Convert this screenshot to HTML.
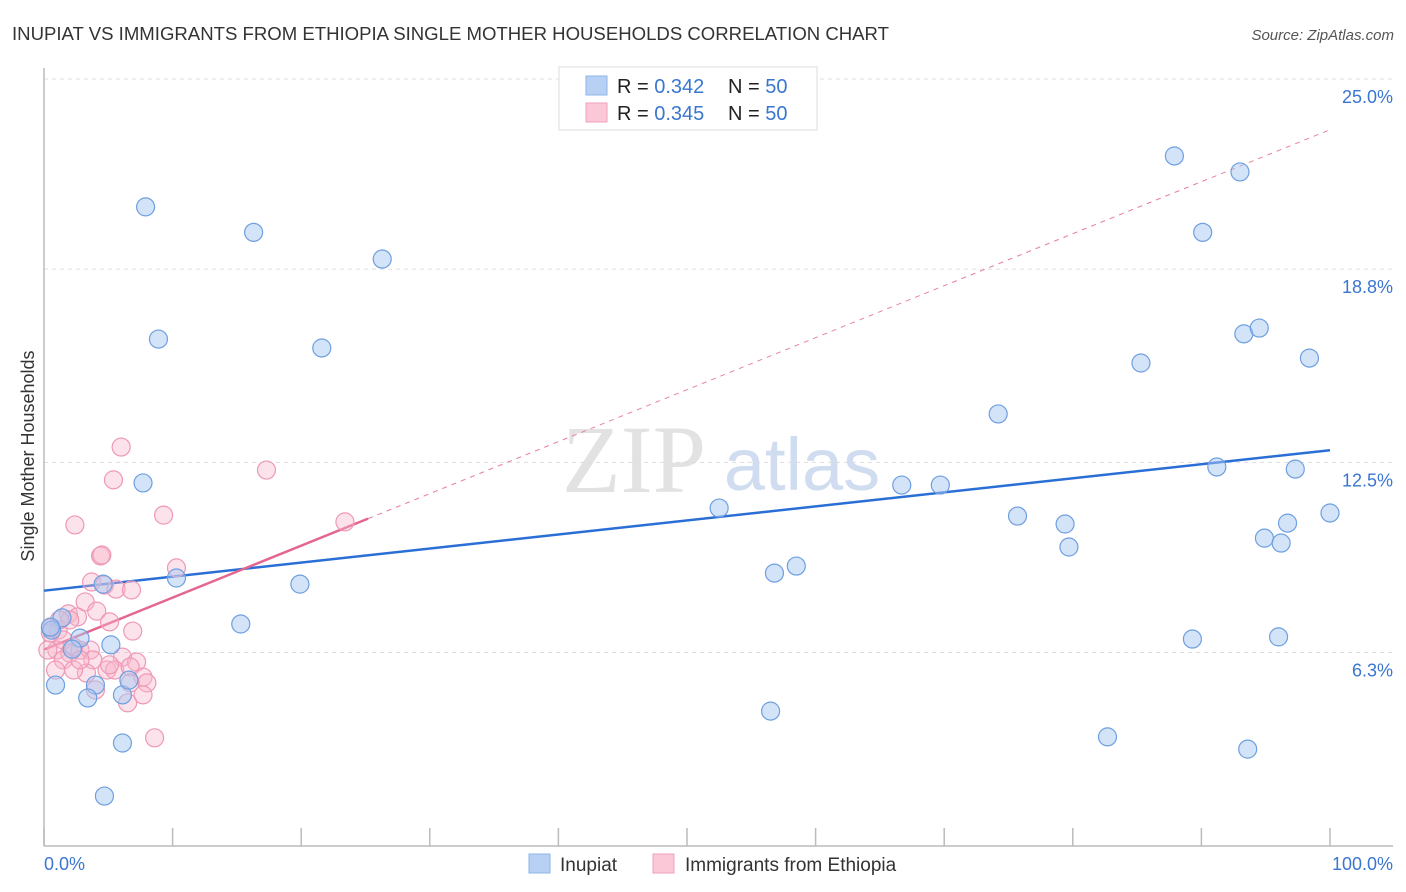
<!DOCTYPE html>
<html><head><meta charset="utf-8"><style>
body{margin:0;background:#fff;font-family:"Liberation Sans",sans-serif;}
#wrap{position:relative;width:1406px;height:892px;overflow:hidden;}
</style></head><body>
<div id="wrap">
<svg id="svg" width="1406" height="892" xmlns="http://www.w3.org/2000/svg">
<text x="12" y="40" font-size="18" fill="#333" textLength="877" lengthAdjust="spacingAndGlyphs">INUPIAT VS IMMIGRANTS FROM ETHIOPIA SINGLE MOTHER HOUSEHOLDS CORRELATION CHART</text>
<text x="1394" y="40" font-size="15" fill="#555" font-style="italic" text-anchor="end">Source: ZipAtlas.com</text>
<text x="34" y="456" font-size="18" fill="#333" text-anchor="middle" transform="rotate(-90 34 456)">Single Mother Households</text>
<g><text x="634" y="492" font-size="96" fill="#e2e2e2" font-family="Liberation Serif,serif" text-anchor="middle">ZIP</text><text x="802" y="490" font-size="74" fill="#d0ddf0" text-anchor="middle">atlas</text></g>
<g id="grid"></g><g id="axes"></g><g id="lines"></g><g id="pts"></g>
<g>
<rect x="559" y="67" width="258" height="63" fill="#fff" stroke="#ddd"/>
<rect x="586" y="76" width="21" height="19" fill="#b7d0f4" stroke="#8fb4e8"/>
<rect x="586" y="103" width="21" height="19" fill="#fac8d6" stroke="#f0a0bb"/>
<text x="617" y="93" font-size="20" fill="#222">R = <tspan fill="#3a76d0">0.342</tspan><tspan x="728">N = </tspan><tspan fill="#3a76d0">50</tspan></text>
<text x="617" y="120" font-size="20" fill="#222">R = <tspan fill="#3a76d0">0.345</tspan><tspan x="728">N = </tspan><tspan fill="#3a76d0">50</tspan></text>
</g>
<g>
<rect x="529" y="854" width="21" height="19" fill="#b7d0f4" stroke="#8fb4e8"/>
<text x="560" y="871" font-size="19" fill="#333">Inupiat</text>
<rect x="653" y="854" width="21" height="19" fill="#fac8d6" stroke="#f0a0bb"/>
<text x="685" y="871" font-size="19" fill="#333">Immigrants from Ethiopia</text>
</g>
</svg>
</div>
<script>
const yTicks=[25.0,18.8,12.5,6.3];
const yTickLabels=["25.0%","18.8%","12.5%","6.3%"];
const xTickLabels=["0.0%","100.0%"];
const blueX=[7.9,16.3,26.3,8.9,21.6,7.7,10.3,4.6,19.9,15.3,1.4,0.6,2.8,5.2,2.2,4.0,0.9,3.4,6.1,6.6,6.1,4.7,52.5,56.8,58.5,56.5,66.7,69.7,74.2,75.7,79.4,79.7,82.7,85.3,87.9,90.1,89.3,91.2,93.0,93.3,94.5,94.9,96.2,96.7,97.3,96.0,93.6,98.4,100,0.5];
const blueY=[20.83,20.0,19.13,16.52,16.23,11.83,8.73,8.53,8.53,7.23,7.43,7.03,6.77,6.55,6.41,5.24,5.24,4.82,4.92,5.4,3.35,1.62,11.01,8.89,9.12,4.39,11.76,11.76,14.08,10.75,10.49,9.74,3.55,15.74,22.49,20.0,6.74,12.35,21.97,16.69,16.88,10.03,9.87,10.52,12.28,6.81,3.15,15.9,10.85,7.13];
const pinkX=[6.0,17.3,5.4,2.4,9.3,23.4,4.4,4.5,10.3,3.7,4.7,5.6,6.8,3.2,4.1,5.1,6.9,1.9,2.6,0.5,1.1,1.5,1.0,2.0,2.8,3.6,1.5,3.8,0.9,3.3,4.9,6.1,7.2,5.5,6.7,7.7,8.0,4.0,6.7,7.7,6.5,8.6,0.3,2.3,0.5,2.3,5.1,2.0,1.2,2.8];
const pinkY=[13.0,12.25,11.93,10.46,10.78,10.56,9.45,9.48,9.06,8.6,8.5,8.37,8.34,7.95,7.65,7.3,7.0,7.56,7.46,6.94,7.03,6.71,6.38,6.28,6.38,6.38,6.06,6.06,5.73,5.63,5.73,6.15,5.99,5.73,5.83,5.5,5.31,5.08,5.31,4.92,4.66,3.52,6.38,6.48,7.1,5.73,5.9,7.36,7.36,6.06];
const NS="http://www.w3.org/2000/svg";
const X0=44,X1=1330,Y25=79,PX=30.67;
const sx=v=>X0+(X1-X0)*v/100;
const sy=v=>Y25+(25-v)*PX;
function mk(tag,attrs,parent){const e=document.createElementNS(NS,tag);for(const k in attrs)e.setAttribute(k,attrs[k]);document.getElementById(parent).appendChild(e);return e;}
yTicks.forEach((t,i)=>{
 const g=mk('line',{x1:X0,x2:1393,y1:sy(t),y2:sy(t),stroke:'#ddd','stroke-dasharray':'4,4'},'grid');
 
 
 const l=mk('text',{x:1393,y:sy(t)+24,'font-size':18,fill:'#3a76d0','text-anchor':'end'},'axes');
 l.textContent=yTickLabels[i];
 
 
});
const ya=mk('line',{x1:X0,x2:X0,y1:68,y2:846,stroke:'#bbb','stroke-width':1.5},'axes');


const xa=mk('line',{x1:X0,x2:1393,y1:846,y2:846,stroke:'#bbb','stroke-width':1.5},'axes');


for(let i=0;i<=10;i++){const t=mk('line',{x1:sx(i*10),x2:sx(i*10),y1:828,y2:846,stroke:'#bbb','stroke-width':1.5},'axes');
 
 }
[[0,'start',X0],[1,'end',1393]].forEach(([i,a,x])=>{const t=mk('text',{x:x,y:870,'font-size':18,fill:'#3a76d0','text-anchor':a},'axes');t.textContent=xTickLabels[i];
 
 });
function fit(xs,ys){const n=xs.length;let mx=0,my=0;for(let i=0;i<n;i++){mx+=xs[i];my+=ys[i];}mx/=n;my/=n;let sxy=0,sxx=0;for(let i=0;i<n;i++){sxy+=(xs[i]-mx)*(ys[i]-my);sxx+=(xs[i]-mx)**2;}const b=sxy/sxx;return [my-b*mx,b];}
const [ba,bb]=fit(blueX,blueY);
const bl=mk('line',{x1:sx(0),y1:sy(ba),x2:sx(100),y2:sy(ba+bb*100),stroke:'#2a6fd6','stroke-width':2.5},'lines');


const [pa,pb]=fit(pinkX,pinkY);
const pmax=Math.max(...pinkX)+1.8;
const pd=mk('line',{x1:sx(pmax),y1:sy(pa+pb*pmax),x2:sx(100),y2:sy(pa+pb*100),stroke:'#e8809f','stroke-width':1,'stroke-dasharray':'5,5'},'lines');


const pl=mk('line',{x1:sx(0),y1:sy(pa),x2:sx(pmax),y2:sy(pa+pb*pmax),stroke:'#e4668f','stroke-width':2.5},'lines');


pinkX.forEach((x,i)=>{const c=mk('circle',{cx:sx(x),cy:sy(pinkY[i]),r:9,fill:'rgba(248,182,202,0.4)',stroke:'#ef98b6','stroke-width':1.2},'pts');
 
 });
blueX.forEach((x,i)=>{const c=mk('circle',{cx:sx(x),cy:sy(blueY[i]),r:9,fill:'rgba(168,200,242,0.5)',stroke:'#6e9fe0','stroke-width':1.2},'pts');
 
 });
</script>
</body></html>
